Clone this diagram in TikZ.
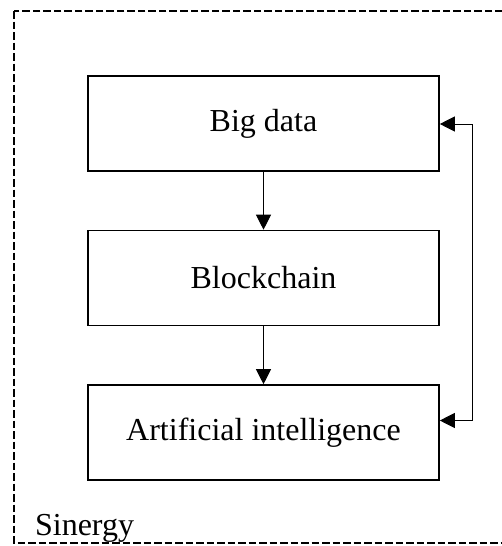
\documentclass[tikz,border=0pt]{standalone}
\usepackage{fontspec}
\setmainfont{Liberation Serif}
\usepackage{tikz}
\usetikzlibrary{arrows.meta}

\begin{document}
\begin{tikzpicture}[x=0.5pt, y=-0.5pt,
    tech/.style={draw, line width=0.8pt, minimum width=175.5pt, minimum height=47.5pt,
      inner sep=0pt, font=\fontsize{16}{19}\selectfont},
    link/.style={line width=0.5pt, -{Triangle[length=7.5pt,width=7.5pt]}}]
      \useasboundingbox (0,0) rectangle (502,546);
      % Cadre en pointillés
      \draw[line width=1pt, dash pattern=on 3.75pt off 1.5pt] (14,11) rectangle (540,543);
      \node[anchor=base west, font=\fontsize{16}{19}\selectfont] (sinergy) at (28,535) {Sinergy};
      % Les trois blocs
      \node[tech] (big) at (263.5,123.5) {Big data};
      \node[tech] (chain) at (263.5,278) {Blockchain};
      \node[tech] (ai) at (263.5,432.5) {Artificial intelligence};
      \draw[link] (big) -- (chain);
      \draw[link] (chain) -- (ai);
      % Boucle de retour
      \coordinate (loop) at (472,124);
      \draw[link, {Triangle[length=7.5pt,width=7.5pt]}-{Triangle[length=7.5pt,width=7.5pt]}]
        (big.east |- loop) -- (loop) |- ([yshift=6pt]ai.east);
    \end{tikzpicture}
\end{document}
